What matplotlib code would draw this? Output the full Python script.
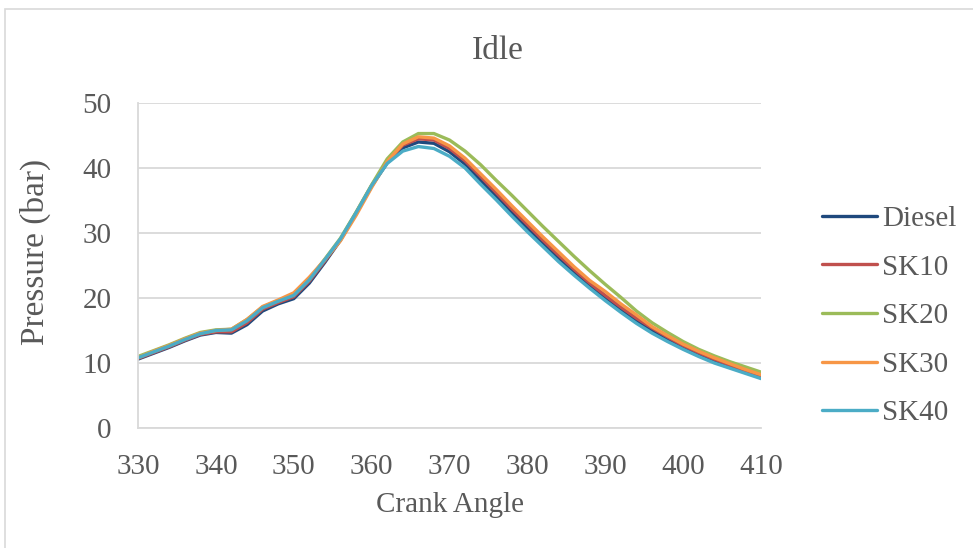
import numpy as np
import matplotlib
matplotlib.use("Agg")
import matplotlib.pyplot as plt
from matplotlib.patches import Rectangle

plt.rcParams['font.family'] = ['Liberation Serif', 'DejaVu Serif']

# crank angle (deg) and cylinder pressure (bar) at idle
crank = list(range(330, 411, 2))

diesel = [10.6, 11.5, 12.4, 13.4, 14.3, 14.7, 14.6, 15.9, 18.0, 19.1, 19.9,
          22.3, 25.5, 28.9, 33.0, 37.2, 40.8, 43.1, 44.0, 43.8, 42.5,
          40.6, 38.1, 35.7, 33.2, 30.8, 28.4, 26.1, 23.9, 21.9, 20.0,
          18.2, 16.5, 15.0, 13.6, 12.4, 11.3, 10.3, 9.4, 8.6, 7.8]
sk10 = [10.7, 11.6, 12.5, 13.5, 14.4, 14.8, 14.8, 16.2, 18.3, 19.3, 20.2,
        22.6, 25.7, 29.0, 33.1, 37.3, 41.0, 43.5, 44.5, 44.3, 43.0,
        41.1, 38.7, 36.2, 33.7, 31.3, 28.9, 26.6, 24.4, 22.3, 20.4,
        18.6, 16.9, 15.4, 14.0, 12.7, 11.6, 10.6, 9.7, 8.8, 8.0]
sk20 = [11.0, 11.9, 12.8, 13.8, 14.7, 15.1, 15.2, 16.7, 18.6, 19.6, 20.5,
        22.9, 26.0, 29.2, 33.2, 37.4, 41.4, 44.0, 45.3, 45.3, 44.3,
        42.6, 40.5, 38.1, 35.8, 33.4, 31.0, 28.7, 26.4, 24.2, 22.1,
        20.1, 18.0, 16.2, 14.7, 13.3, 12.1, 11.1, 10.2, 9.4, 8.6]
sk30 = [10.8, 11.8, 12.7, 13.7, 14.6, 15.0, 15.2, 16.7, 18.7, 19.7, 20.8,
        23.2, 25.9, 28.8, 32.7, 37.0, 41.0, 43.7, 44.8, 44.6, 43.4,
        41.5, 39.1, 36.7, 34.2, 31.8, 29.4, 27.1, 24.8, 22.7, 21.0,
        19.1, 17.4, 15.6, 14.2, 12.9, 11.8, 10.8, 9.9, 9.0, 8.2]
sk40 = [10.8, 11.7, 12.6, 13.6, 14.5, 15.0, 15.1, 16.5, 18.5, 19.5, 20.4,
        22.8, 25.9, 29.1, 33.1, 37.3, 40.7, 42.6, 43.3, 43.0, 41.8,
        40.0, 37.5, 35.1, 32.6, 30.2, 27.9, 25.6, 23.5, 21.5, 19.6,
        17.8, 16.1, 14.6, 13.3, 12.1, 11.0, 10.0, 9.2, 8.4, 7.6]

labels = ['Diesel', 'SK10', 'SK20', 'SK30', 'SK40']
colors = ['#1F497D', '#C0504D', '#9BBB59', '#F79646', '#4BACC6']
series = [diesel, sk10, sk20, sk30, sk40]

txt = '#595959'
grid = '#D9D9D9'

fig = plt.figure(figsize=(9.73, 5.48), dpi=100)
ax = fig.add_axes([138 / 973, 1 - 428 / 548, (761 - 138) / 973, (428 - 103) / 548])

for y, c, lab in zip(series, colors, labels):
    ax.plot(crank, y, color=c, lw=2.4, label=lab, solid_joinstyle='round',
            solid_capstyle='round')

ax.set_xlim(330, 410)
ax.set_ylim(0, 50)
ax.set_xticks(np.arange(330, 411, 10))
ax.set_yticks(np.arange(0, 51, 10))
ax.grid(axis='y', color=grid, lw=1.3)
ax.set_axisbelow(True)
for s in ['top', 'right']:
    ax.spines[s].set_visible(False)
ax.spines['bottom'].set_color(grid)
ax.spines['left'].set_color(grid)
ax.spines['bottom'].set_linewidth(1.3)
ax.spines['left'].set_linewidth(1.3)
ax.tick_params(length=0, labelsize=21, colors=txt)
ax.tick_params(axis='x', pad=19)
ax.tick_params(axis='y', pad=19)

fig.text(0.511, 1 - 51 / 548, 'Idle', ha='center', va='center',
         fontsize=24, color=txt)
fig.text(0.462, 1 - 505 / 548, 'Crank Angle', ha='center', va='center',
         fontsize=21, color=txt)
fig.text(35 / 973, 1 - 252 / 548, 'Pressure (bar)', ha='center', va='center',
         rotation=90, fontsize=24, color=txt)

fig.legend(loc='center left', bbox_to_anchor=(822 / 973, 1 - 316 / 548),
           frameon=False, fontsize=21, labelcolor=txt, handlelength=1.9,
           handletextpad=0.15, labelspacing=0.76, borderpad=0, borderaxespad=0)

# light chart-area border
fig.add_artist(Rectangle((5 / 973, -0.2), 1.2, 1.2 - 9 / 548,
                         transform=fig.transFigure, fill=False,
                         edgecolor=grid, lw=1.2))

fig.savefig('out.png', dpi=100)
